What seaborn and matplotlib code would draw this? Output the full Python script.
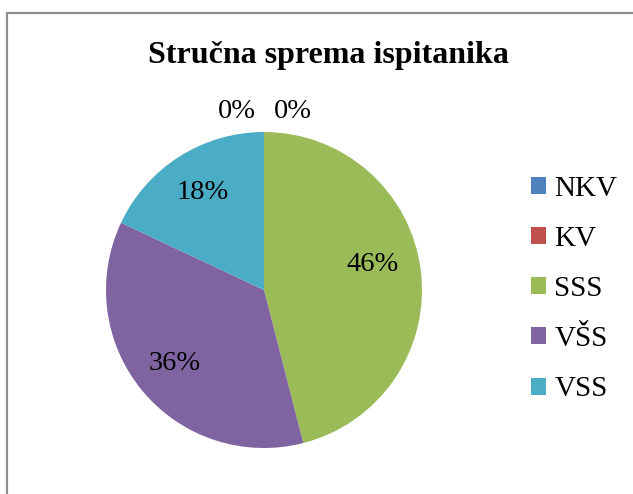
import matplotlib
matplotlib.use("Agg")
import matplotlib.pyplot as plt
from matplotlib.patches import Patch
from matplotlib.lines import Line2D
import seaborn as sns

# podaci
kategorije = ["NKV", "KV", "SSS", "VŠS", "VSS"]
udjeli = [0, 0, 46, 36, 18]
boje = ["#4F81BD", "#C0504D", "#9BBB59", "#8064A2", "#4BACC6"]

sns.set_theme(style="white")
plt.rcParams["font.family"] = ["Liberation Serif", "DejaVu Serif"]
plt.rcParams["text.color"] = "black"
paleta = sns.color_palette(boje)

fig = plt.figure(figsize=(6.33, 4.94), dpi=100)
fig.patch.set_facecolor("white")

# okvir grafikona (samo gornji i lijevi rub vidljivi)
fig.add_artist(Line2D([7.5 / 633, 7.5 / 633], [0, 1 - 13 / 494],
                      transform=fig.transFigure, color="#8c8c8c", lw=1.6))
fig.add_artist(Line2D([7.5 / 633, 1], [1 - 13 / 494, 1 - 13 / 494],
                      transform=fig.transFigure, color="#8c8c8c", lw=1.6))

ax = fig.add_axes([106 / 633, 46 / 494, 316 / 633, 316 / 494])
klinovi, _, postoci = ax.pie(udjeli, colors=paleta, startangle=90,
                             counterclock=False, autopct="%d%%",
                             pctdistance=0.73,
                             textprops={"fontsize": 20.5, "color": "black"},
                             wedgeprops={"linewidth": 0})
# 0% oznake iznad vrha kruga
postoci[0].set_position((-0.17, 1.13))
postoci[1].set_position((0.18, 1.13))
postoci[2].set_position((0.69, 0.16))
ax.set_xlim(-1, 1)
ax.set_ylim(-1, 1)
ax.set_aspect("auto")
ax.axis("off")

fig.text(328 / 633, 1 - 56 / 494, "Stručna sprema ispitanika",
         ha="center", va="center", fontsize=23, fontweight="bold",
         color="black")

rucke = [Patch(facecolor=c, edgecolor="none") for c in paleta]
fig.legend(rucke, kategorije, loc="center left",
           bbox_to_anchor=(516 / 633, 1 - 289 / 494), frameon=False,
           fontsize=21, handlelength=0.52, handleheight=0.52,
           handletextpad=0.3, labelspacing=0.83, borderpad=0,
           labelcolor="black")

fig.savefig("out.png", dpi=100)
